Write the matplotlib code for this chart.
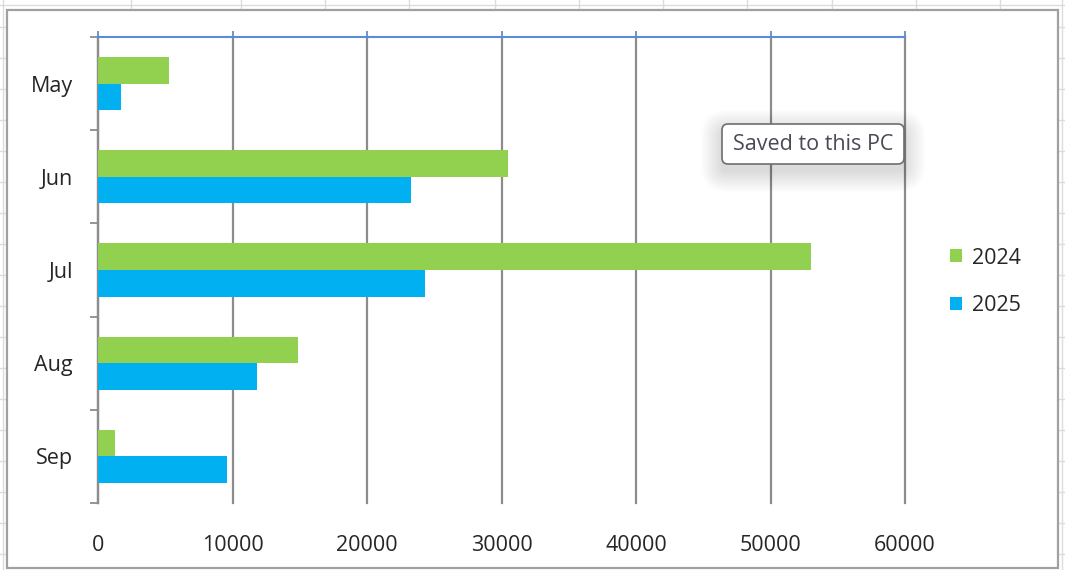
import matplotlib
matplotlib.use("Agg")
import matplotlib.pyplot as plt
from matplotlib.patches import Rectangle, FancyBboxPatch
from matplotlib.lines import Line2D
import numpy as np

months = ["May", "Jun", "Jul", "Aug", "Sep"]
series_names = ["2024", "2025"]
values_2024 = [5300, 30500, 53000, 14900, 1250]
values_2025 = [1700, 23300, 24300, 11800, 9600]
x_ticks = [0, 10000, 20000, 30000, 40000, 50000, 60000]

plt.rcParams['font.family'] = ['Open Sans', 'DejaVu Sans']

W, H = 1065, 570
fig = plt.figure(figsize=(W / 100, H / 100), dpi=100)
fig.patch.set_facecolor("white")
inch = fig.dpi_scale_trans

def fx(px):
    return px / W

def fy(py):
    return 1 - py / H

def fline(x0, y0, x1, y1, color, lw, z=-2):
    fig.lines.append(Line2D([fx(x0), fx(x1)], [fy(y0), fy(y1)], transform=fig.transFigure,
                            color=color, linewidth=lw, zorder=z))

# faint spreadsheet cell grid around the chart
cell = "#dcdcdc"
fline(0, 5, W, 5, cell, 1.0)
fline(3, 0, 3, H, cell, 1.0)
fline(1062, 0, 1062, H, cell, 1.0)
for xx in [131, 241, 325, 409, 495, 579, 663, 747, 832, 916, 1000]:
    fline(xx, 0, xx, 10, cell, 1.0)
for yy in range(27, H, 31):
    fline(0, yy, 7, yy, cell, 1.0)
    fline(1058, yy, W, yy, cell, 1.0)

# chart outer border
fig.patches.append(Rectangle((fx(7), fy(568)), fx(1058) - fx(7), fy(10) - fy(568),
                             transform=fig.transFigure, fill=True, facecolor="white",
                             edgecolor="#a0a0a0", linewidth=1.6, zorder=-1))

ax = fig.add_axes([fx(98), fy(503), fx(905) - fx(98), fy(37) - fy(503)])
ax.set_facecolor("none")

y = np.arange(len(months))
h = 0.286
green = "#92D050"
blue = "#00B0F0"
ax.barh(y - h / 2, values_2024, height=h, color=green, label=series_names[0], zorder=3)
ax.barh(y + h / 2, values_2025, height=h, color=blue, label=series_names[1], zorder=3)

ax.set_ylim(len(months) - 0.5, -0.5)
ax.set_xlim(0, 60000)

for s in ["right", "bottom"]:
    ax.spines[s].set_visible(False)
ax.spines["left"].set_color("#8c8c8c")
ax.spines["left"].set_linewidth(1.6)
ax.spines["top"].set_color("#5b8dd6")
ax.spines["top"].set_linewidth(1.5)
ax.spines["top"].set_zorder(4)

ax.set_xticks(x_ticks)
ax.set_xticklabels([str(v) for v in x_ticks])
ax.tick_params(axis="x", which="major", bottom=False, top=True, labelbottom=True,
               labeltop=False, direction="out", length=4, width=1.3,
               color="#5b8dd6", pad=19, labelsize=15.5, labelcolor="#262626")
ax.xaxis.grid(True, color="#8c8c8c", linewidth=1.6, zorder=1)
for gl in ax.get_xgridlines():
    gl.set_clip_on(False)

ax.set_yticks(y)
ax.set_yticklabels(months)
ax.set_yticks(np.arange(len(months) + 1) - 0.5, minor=True)
ax.tick_params(axis="y", which="major", length=0, pad=18, labelsize=15.5,
               labelcolor="#262626")
ax.tick_params(axis="y", which="minor", length=6, width=1.3, color="#8c8c8c")

ax.legend(loc="center left", bbox_to_anchor=(fx(931), fy(282)),
          bbox_transform=fig.transFigure, frameon=False, fontsize=15.5,
          handlelength=0.55, handleheight=0.55, handletextpad=0.45,
          labelspacing=1.25, labelcolor="#262626")

# tooltip with soft shadow (coordinates in pixels -> inches)
bx0, by0, bx1, by1 = 722, 124, 904, 164
n = 12
for i in range(n):
    d = 1 + i * 1.8
    sh = FancyBboxPatch(((bx0 - d) / 100, (H - by1 - d - 7) / 100),
                        (bx1 - bx0 + 2 * d) / 100, (by1 - by0 + 2 * d) / 100,
                        boxstyle="round,pad=0,rounding_size=%f" % ((6 + d) / 100),
                        transform=inch, facecolor="black",
                        edgecolor="none", alpha=0.011, zorder=5)
    fig.patches.append(sh)
fig.patches.append(FancyBboxPatch((bx0 / 100, (H - by1) / 100), (bx1 - bx0) / 100,
                                  (by1 - by0) / 100,
                                  boxstyle="round,pad=0,rounding_size=0.06",
                                  transform=inch, facecolor="white",
                                  edgecolor="#6e6e6e", linewidth=1.2, zorder=6))
fig.text(fx(813), fy(145), "Saved to this PC", ha="center", va="center",
         fontsize=15.5, color="#4a4a55", zorder=7)

fig.savefig("out.png", dpi=100)
